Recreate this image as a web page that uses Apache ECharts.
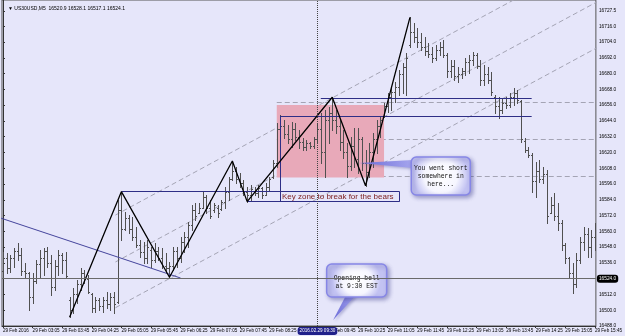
<!DOCTYPE html>
<html><head><meta charset="utf-8">
<script src="https://cdn.jsdelivr.net/npm/echarts@6/dist/echarts.min.js"></script>
<style>html,body{margin:0;padding:0;background:#E6E6FA;}#c{width:625px;height:336px;}</style>
</head><body><div id="c"></div>
<script>
// ---- tick labels ----
const labelBars = [0,8,16,24,32,40,48,56,64,72,80,88,96,104,112,120,128,136,144,152,160];
const timeLabels = ['29 Feb 2016','29 Feb 03:05','29 Feb 03:45','29 Feb 04:25','29 Feb 05:05','29 Feb 05:45','29 Feb 06:25','29 Feb 07:05','29 Feb 07:45','29 Feb 08:25','29 Feb 09:05','29 Feb 09:45','29 Feb 10:25','29 Feb 11:05','29 Feb 11:45','29 Feb 12:25','29 Feb 13:05','29 Feb 13:45','29 Feb 14:25','29 Feb 15:05','29 Feb 15:45'];
const priceTicks = [16488,16500,16512,16524,16536,16548,16560,16572,16584,16596,16608,16620,16632,16644,16656,16668,16680,16692,16704,16716,16727.5];

// ---- OHLC (M5 bars, bar 0 = 02:25) ----
const opens = [16530,16540,16532,16540,16545,16542,16530,16528,16510,16522,
16535,16540,16545,16536,16518,16534,16542,16538,16508,16500,
16512,16520,16528,16524,16512,16502,16508,16503,16508,16505,
16510,16506,16576,16562,16570,16562,16556,16550,16544,16540,
16546,16538,16545,16540,16534,16532,16534,16545,16540,16552,
16556,16565,16576,16574,16578,16586,16578,16576,16578,16577,
16582,16590,16600,16606,16600,16597,16590,16588,16591,16589,
16593,16588,16594,16601,16612,16638,16640,16634,16630,16638,
16632,16628,16624,16627,16625,16630,16638,16620,16645,16650,
16645,16640,16628,16620,16610,16625,16615,16630,16612,16605,
16620,16630,16640,16648,16655,16662,16666,16670,16680,16685,
16702,16712,16708,16704,16700,16697,16695,16692,16698,16700,
16694,16682,16686,16678,16680,16682,16689,16690,16694,16686,
16675,16680,16675,16662,16655,16652,16658,16656,16662,16665,
16659,16629,16622,16618,16598,16606,16600,16604,16574,16580,
16572,16566,16550,16540,16528,16520,16538,16552,16558,16548,16556];
const highs = [16544.5,16543.3,16542.0,16547.1,16551.4,16547.1,16535.7,16529.3,16528.1,16538.2,
16545.8,16547.1,16548.3,16542.0,16538.2,16545.8,16543.3,16544.5,16510.3,16516.7,
16523.0,16531.9,16530.6,16526.8,16512.9,16510.3,16509.1,16510.3,16514.1,16512.9,
16514.1,16583.9,16590.2,16575.0,16572.4,16571.2,16563.5,16553.4,16552.1,16553.4,
16548.3,16550.9,16548.3,16547.1,16543.3,16536.9,16548.3,16548.3,16555.9,16559.7,
16567.4,16580.1,16581.3,16581.3,16590.2,16587.7,16583.9,16581.3,16580.1,16583.9,
16594.0,16601.6,16613.5,16609.2,16604.2,16599.1,16594.0,16595.3,16594.0,16595.3,
16594.0,16596.6,16601.6,16614.3,16642.2,16648.5,16644.7,16640.9,16643.4,16642.2,
16637.1,16630.8,16629.5,16628.2,16632.0,16642.2,16649.8,16652.3,16654.8,16662.0,
16652.3,16644.7,16637.1,16627.0,16632.0,16638.4,16638.4,16632.0,16621.9,16627.0,
16634.6,16644.7,16647.2,16657.4,16665.0,16670.0,16673.9,16682.7,16687.8,16695.5,
16722.8,16718.3,16714.5,16710.7,16708.1,16703.1,16700.5,16701.8,16704.3,16705.6,
16695.5,16690.4,16690.4,16685.3,16684.0,16691.7,16694.2,16696.7,16695.5,16690.4,
16686.6,16685.3,16681.5,16663.7,16662.4,16661.2,16662.4,16665.0,16668.8,16667.5,
16659.9,16630.8,16624.4,16619.4,16613.0,16614.3,16609.2,16606.7,16586.4,16589.0,
16581.3,16568.6,16550.9,16540.7,16535.7,16543.3,16555.9,16563.5,16562.3,16561.0,16566.1];
const lows = [16525.5,16528.1,16529.3,16533.1,16538.2,16526.8,16525.5,16500.2,16505.3,16520.5,
16525.5,16526.8,16533.1,16511.6,16515.4,16526.8,16528.1,16524.3,16494.6,16497.7,
16505.3,16515.4,16520.5,16512.9,16498.9,16498.9,16500.2,16498.9,16501.5,16500.2,
16497.7,16505.3,16553.4,16561.0,16558.5,16553.4,16548.3,16540.7,16535.7,16535.7,
16533.1,16536.9,16538.2,16531.9,16529.3,16525.1,16530.6,16533.1,16536.9,16544.5,
16548.3,16561.0,16568.6,16573.7,16577.5,16573.7,16569.9,16575.0,16571.2,16576.3,
16577.5,16583.9,16599.1,16596.6,16594.0,16587.7,16582.6,16583.9,16587.7,16586.4,
16585.2,16587.7,16591.5,16600.4,16609.2,16633.3,16630.8,16627.0,16624.4,16629.5,
16623.4,16621.9,16621.9,16623.2,16623.2,16627.0,16611.8,16601.6,16627.0,16637.1,
16634.6,16621.9,16615.6,16601.6,16606.7,16609.2,16604.2,16606.7,16594.7,16601.6,
16609.2,16619.4,16632.0,16647.2,16651.0,16652.3,16658.6,16663.7,16665.0,16663.7,
16700.5,16704.3,16700.5,16698.0,16694.2,16692.9,16689.1,16690.4,16694.2,16692.9,
16677.7,16677.7,16675.1,16673.9,16676.4,16679.0,16680.2,16686.6,16684.0,16671.3,
16671.3,16672.6,16663.7,16649.8,16646.0,16649.8,16653.6,16654.8,16656.1,16657.4,
16628.2,16620.6,16616.8,16590.2,16586.4,16597.8,16596.6,16566.1,16573.7,16568.6,
16561.0,16545.8,16535.7,16524.3,16512.9,16517.9,16535.7,16545.8,16540.7,16540.7,16545.8];
const closes = [16540,16532,16540,16545,16542,16530,16528,16510,16522,16535,
16540,16545,16536,16518,16534,16542,16538,16526,16500,16512,
16520,16528,16524,16514,16502,16508,16503,16508,16505,16510,
16505,16576,16562,16570,16562,16556,16550,16544,16540,16548,
16538,16545,16540,16534,16532,16534,16545,16540,16552,16556,
16565,16576,16572,16578,16586,16578,16572,16580,16574,16582,
16590,16600,16606,16600,16597,16590,16588,16592,16589,16593,
16588,16594,16600,16612,16638,16640,16634,16630,16638,16632,
16628,16624,16627,16625,16630,16638,16620,16645,16650,16645,
16640,16628,16620,16610,16625,16615,16630,16612,16605,16620,
16630,16640,16645,16655,16662,16666,16670,16680,16685,16692,
16712,16708,16704,16700,16697,16695,16692,16698,16700,16694,
16682,16686,16678,16680,16682,16689,16690,16694,16686,16675,
16680,16675,16666,16655,16652,16658,16656,16662,16665,16660,
16630,16622,16618,16598,16606,16600,16604,16572,16580,16572,
16566,16550,16540,16528,16520,16538,16552,16558,16548,16556,16550];

// ---- drawn objects, in [bar index, price] ----
const zigzag = [[18,16494.6],[32,16590.2],[45,16525.1],[62,16613.5],[66,16582.6],[89,16662.0],[98,16594.7],[110,16722.8]];
const trendLine = [[-0.5,16570.0],[48,16524.5]];
const channelLines = [
  [[30.4,16572.4],[160.5,16770.2]],
  [[30.4,16536.7],[160.5,16734.5]],
  [[30.4,16501.9],[160.5,16699.6]]
];
const levelLines = [
  [[74,16658.5],[160.5,16658.5]],
  [[74,16630.3],[160.5,16630.3]],
  [[74,16602.3],[160.5,16602.3]]
];
const navyLines = [
  [[32,16590.2],[107.2,16590.2]],
  [[66,16582.6],[107.2,16582.6]],
  [[75,16647.8],[75,16582.6]],
  [[107.2,16590.2],[107.2,16582.6]],
  [[75,16647.8],[142.9,16647.8]],
  [[85.9,16661.2],[142.9,16661.2]]
];
const zoneBox = [[74, 103, 16656.1, 16601.0]];
const crossBar = 85, crossPrice = 16524.0;

const ohlc = opens.map((o,i)=>[i,o,highs[i],lows[i],closes[i]]);

const chart = echarts.init(document.getElementById('c'));
const FONT = 'Liberation Sans';
chart.setOption({
  backgroundColor:'#E6E6FA',
  animation:false,
  title:{text:'\u25BC US30USD,M5  16520.9 16528.1 16517.1 16524.1',left:3,top:1,
    textStyle:{fontSize:5,fontWeight:'normal',color:'#000',fontFamily:FONT}},
  grid:{left:1,right:22,top:0,bottom:10,show:true,borderColor:'#555',borderWidth:1,backgroundColor:'transparent'},
  xAxis:{type:'value',min:-0.27,max:160.26,
    axisLine:{show:true,lineStyle:{color:'#333'}},splitLine:{show:false},
    axisTick:{show:true,length:2,customValues:labelBars,lineStyle:{color:'#333'}},
    axisLabel:{customValues:labelBars,formatter:v=>timeLabels[labelBars.indexOf(v)],align:'left',
      fontSize:4.6,margin:2,color:'#000',fontFamily:FONT},
    axisPointer:{show:true,value:crossBar,status:'show',type:'line',snap:false,triggerTooltip:false,
      lineStyle:{type:'dotted',color:'#444',width:1},
      label:{show:true,formatter:'2016.02.29 09:30',backgroundColor:'#20208A',color:'#fff',fontSize:4.6,padding:[1.5,2],margin:1,fontFamily:FONT}}
  },
  yAxis:{type:'value',position:'right',min:16488,max:16736,scale:true,
    axisLine:{show:true,lineStyle:{color:'#333'}},splitLine:{show:false},
    axisTick:{show:true,length:2,customValues:priceTicks,lineStyle:{color:'#333'}},
    axisLabel:{customValues:priceTicks,formatter:v=>v.toFixed(1),fontSize:4.8,margin:3,color:'#000',fontFamily:FONT},
    axisPointer:{show:true,value:crossPrice,status:'show',type:'line',snap:false,triggerTooltip:false,
      lineStyle:{type:'solid',color:'#6a6a6a',width:1},
      label:{show:true,formatter:'16524.0',backgroundColor:'#000',color:'#fff',fontSize:4.8,padding:[1.5,2],margin:1,fontFamily:FONT}}
  },
  series:[
    {type:'lines',coordinateSystem:'cartesian2d',z:1,silent:true,clip:true,
      data:channelLines.concat(levelLines).map(c=>({coords:c})),
      lineStyle:{color:'#A4A4B4',width:1,type:[5,3],opacity:1}},
    {type:'custom',z:2,silent:true,data:zoneBox,
      renderItem:(p,api)=>{const a=api.coord([api.value(0),api.value(2)]),b=api.coord([api.value(1),api.value(3)]);
        return {type:'rect',shape:{x:a[0],y:a[1],width:b[0]-a[0],height:b[1]-a[1]},style:{fill:'#E8A9B9'}};}},
    {type:'custom',z:3,silent:true,data:ohlc,encode:{x:0,y:[1,2,3,4]},clip:true,
      renderItem:(p,api)=>{
        const i=api.value(0);
        const o=api.coord([i,api.value(1)]),h=api.coord([i,api.value(2)]),l=api.coord([i,api.value(3)]),c=api.coord([i,api.value(4)]);
        const px=Math.round(h[0])+0.5, st={stroke:'#505050',lineWidth:1};
        const oy=Math.round(o[1])+0.5, cy=Math.round(c[1])+0.5;
        return {type:'group',children:[
          {type:'line',shape:{x1:px,y1:Math.round(h[1]),x2:px,y2:Math.round(l[1])+1},style:st},
          {type:'line',shape:{x1:px-1.5,y1:oy,x2:px,y2:oy},style:st},
          {type:'line',shape:{x1:px,y1:cy,x2:px+1.5,y2:cy},style:st}]};
      }},
    {type:'line',z:4,silent:true,data:trendLine,symbol:'none',lineStyle:{color:'#45459C',width:1}},
    {type:'lines',coordinateSystem:'cartesian2d',z:4,silent:true,
      data:navyLines.map(c=>({coords:c})),lineStyle:{color:'#2E2E86',width:1,opacity:1}},
    {type:'line',z:5,silent:true,data:zigzag,symbol:'none',lineStyle:{color:'#000',width:1.3}}
  ]
});

// ---- annotations anchored at data points ----
const anchors = {keyZone:[75.4,16586.4], shortTip:[96.3,16612.0], bellTip:[89.25,16492.6]};
const P = a => chart.convertToPixel({gridIndex:0}, a);
const kz = P(anchors.keyZone), st = P(anchors.shortTip), bt = P(anchors.bellTip);
function bubble(x,y,w,h,tail,text,cx,cy){
  return [
    {type:'polygon',z:10,shape:{points:tail},style:{fill:new echarts.graphic.LinearGradient(0,0,1,0,[{offset:0,color:'#6C6CD8'},{offset:1,color:'#A6A6EE'}]),shadowBlur:3,shadowOffsetX:1.5,shadowOffsetY:1.5,shadowColor:'rgba(60,60,140,0.35)'}},
    {type:'rect',z:11,shape:{x:x,y:y,width:w,height:h,r:5},style:{fill:new echarts.graphic.RadialGradient(0.5,0.5,0.7,[{offset:0,color:'#FFFFFF'},{offset:0.6,color:'#F6F6FF'},{offset:1,color:'#C2C2F2'}]),stroke:'#8686E6',lineWidth:1.5,shadowBlur:4,shadowOffsetX:2,shadowOffsetY:2,shadowColor:'rgba(60,60,140,0.45)'}},
    {type:'text',z:12,style:{text:text,x:cx,y:cy,fill:'#111',font:'6.4px "Liberation Mono"',align:'center',verticalAlign:'middle',lineHeight:8}}
  ];
}
const g = [].concat(
  [{type:'text',z:9,style:{text:'Key zone to break for the bears',x:kz[0],y:kz[1],fill:'#7E2222',font:'8px "Liberation Sans"',align:'left',verticalAlign:'middle'}}],
  bubble(st[0]+52,st[1]-6,59,38,[[st[0],st[1]],[st[0]+54,st[1]-3],[st[0]+54,st[1]+5]],'You went short\nsomewhere in\nhere...',st[0]+81.5,st[1]+13),
  bubble(bt[0]-6.5,bt[1]-56,60,33,[[bt[0],bt[1]],[bt[0]+13,bt[1]-25],[bt[0]+23,bt[1]-25]],'Opening bell\nat 9:30 EST',bt[0]+23.5,bt[1]-38)
);
chart.setOption({graphic:g});
</script></body></html>
